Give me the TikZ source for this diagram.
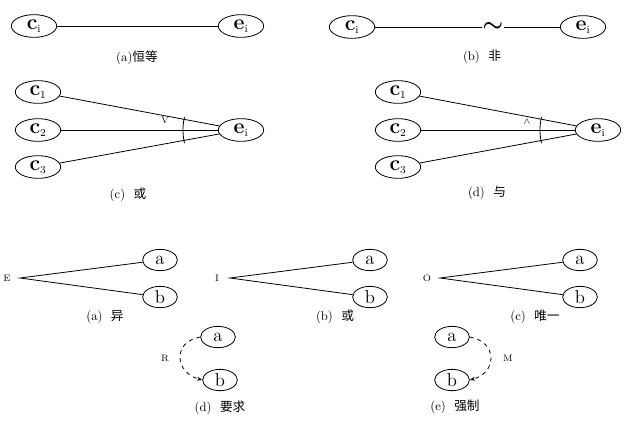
\documentclass[tikz,border=0pt]{standalone}
\usepackage{fontspec}
\newfontfamily\cjk{Noto Sans CJK SC}
\usetikzlibrary{shapes.geometric,arrows.meta}

\tikzset{
  evt/.style={draw,ellipse,minimum width=34pt,minimum height=17pt,inner sep=0pt,
    font=\fontsize{16}{16}\selectfont\bfseries},
  obj/.style={draw,ellipse,minimum width=26pt,minimum height=16pt,inner sep=0pt,
    font=\fontsize{14}{14}\selectfont},
  captxt/.style={font=\fontsize{9.5}{10}\selectfont},
  optxt/.style={font=\fontsize{7}{7}\selectfont,inner sep=1pt},
  dep/.style={dashed,-{Stealth[length=4pt]}}
}

\begin{document}
\begin{tikzpicture}[x=0.75pt,y=0.75pt,line width=0.6pt]
\useasboundingbox (0,0) rectangle (635,-437);

% (a) identity
\node[evt] (ca) at (34,-26) {c$_{\scriptscriptstyle\mathrm{i}}$};
\node[evt] (ea) at (241,-26) {e$_{\scriptscriptstyle\mathrm{i}}$};
\draw (ca) -- (ea);
\node[captxt] (capa) at (137,-58) {(a)\cjk 恒等};

% (b) not
\node[evt] (cb) at (352,-27) {c$_{\scriptscriptstyle\mathrm{i}}$};
\node[evt] (eb) at (583,-27) {e$_{\scriptscriptstyle\mathrm{i}}$};
\node[font=\LARGE\boldmath,fill=white,inner sep=0pt] (nb) at (493,-27) {$\sim$};
\draw (cb) -- (nb) -- (eb);
\node[captxt] (capb) at (482,-57) {(b)\ \ \cjk 非};

% (c) or
\node[evt] (c1c) at (38,-92) {c$_{\scriptscriptstyle 1}$};
\node[evt] (c2c) at (38,-130) {c$_{\scriptscriptstyle 2}$};
\node[evt] (c3c) at (38,-167) {c$_{\scriptscriptstyle 3}$};
\node[evt] (ec) at (241,-130) {e$_{\scriptscriptstyle\mathrm{i}}$};
\foreach \n in {c1c,c2c,c3c} \draw (\n) -- (ec);
\draw (ec.center) ++(167:58) arc[start angle=167,end angle=193,radius=58];
\node[optxt] (orc) at (165,-120) {V};
\node[captxt] (capc) at (128,-195) {(c)\ \ \cjk 或};

% (d) and
\node[evt] (c1d) at (398,-92) {c$_{\scriptscriptstyle 1}$};
\node[evt] (c2d) at (398,-130) {c$_{\scriptscriptstyle 2}$};
\node[evt] (c3d) at (398,-167) {c$_{\scriptscriptstyle 3}$};
\node[evt] (ed) at (598,-130) {e$_{\scriptscriptstyle\mathrm{i}}$};
\foreach \n in {c1d,c2d,c3d} \draw (\n) -- (ed);
\draw (ed.center) ++(167:58) arc[start angle=167,end angle=193,radius=58];
\node[optxt] (andd) at (527,-122) {$\wedge$};
\node[captxt] (capd) at (487,-193) {(d)\ \ \cjk 与};

% constraints
\node[optxt] (E) at (7,-278) {E};
\coordinate (pE) at (20,-278);
\node[obj] (aE) at (160,-260) {a};
\node[obj] (bE) at (160,-297) {b};
\draw (aE) -- (pE) -- (bE);
\node[captxt] (capE) at (105,-317) {(a)\ \ \cjk 异};

\node[optxt] (I) at (217,-278) {I};
\coordinate (pI) at (230,-278);
\node[obj] (aI) at (370,-260) {a};
\node[obj] (bI) at (370,-297) {b};
\draw (aI) -- (pI) -- (bI);
\node[captxt] (capI) at (335,-317) {(b)\ \ \cjk 或};

\node[optxt] (O) at (427,-278) {O};
\coordinate (pO) at (440,-278);
\node[obj] (aO) at (580,-260) {a};
\node[obj] (bO) at (580,-297) {b};
\draw (aO) -- (pO) -- (bO);
\node[captxt] (capO) at (535,-317) {(c)\ \ \cjk 唯一};

\node[obj] (aR) at (218,-337) {a};
\node[obj] (bR) at (220,-380) {b};
\draw[dep] (aR.west) to[out=190,in=165,looseness=1.7] (bR.west);
\node[optxt] (R) at (165,-358) {R};
\node[captxt] (capR) at (220,-408) {(d)\ \ \cjk 要求};

\node[obj] (aM) at (452,-337) {a};
\node[obj] (bM) at (452,-380) {b};
\draw[dep] (aM.east) to[out=-10,in=15,looseness=1.7] (bM.east);
\node[optxt] (M) at (508,-358) {M};
\node[captxt] (capM) at (455,-407) {(e)\ \ \cjk 强制};
\end{tikzpicture}
\end{document}
